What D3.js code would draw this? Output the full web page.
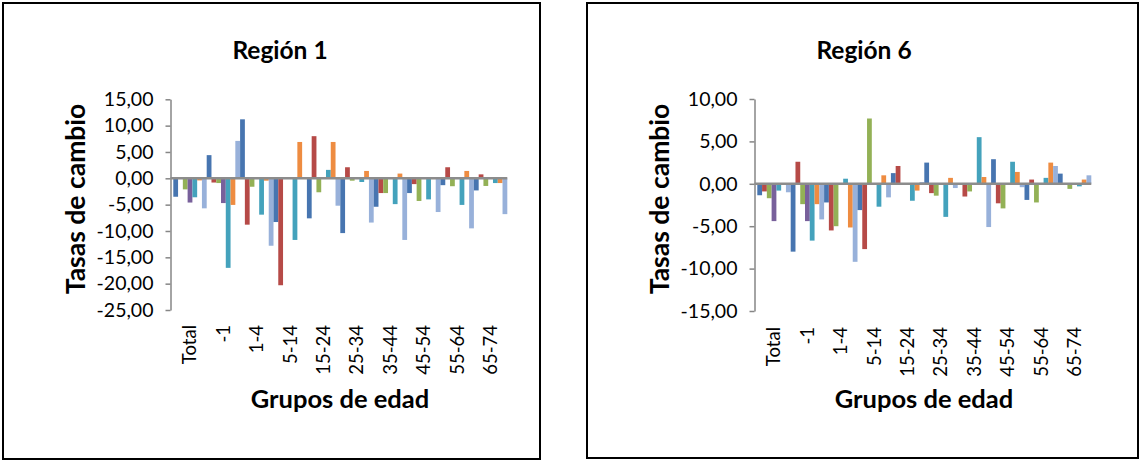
<!DOCTYPE html>
<html>
<head>
<meta charset="utf-8">
<script src="https://cdn.jsdelivr.net/npm/d3@7"></script>
<style>
  body { margin: 0; background: #fff; }
  text { font-family: Lato, "Open Sans", sans-serif; fill: #000; }
</style>
</head>
<body>
<svg width="1142" height="461"></svg>
<script>
// age groups on the x axis
var categories = ["Total", "-1", "1-4", "5-14", "15-24", "25-34", "35-44", "45-54", "55-64", "65-74"];
var series = ["Serie 1", "Serie 2", "Serie 3", "Serie 4", "Serie 5", "Serie 6", "Serie 7"];
var colors = ["#4775b0", "#b64a47", "#93b156", "#78609b", "#44a2bc", "#ee8c41", "#98b1da"];

// Región 1, one array per series (same order as categories)
var r1s1 = [-3.5, 4.4, 11.2, -8.3, -7.6, -10.4, -5.4, -2.8, -1.3, -2.3];
var r1s2 = [0, -0.8, -8.8, -20.3, 8.0, 2.1, -2.8, -1.1, 2.1, 0.75];
var r1s3 = [-2.1, -0.9, -1.6, 0, -2.65, -0.45, -2.8, -4.3, -1.5, -1.45];
var r1s4 = [-4.6, -4.7, 0, 0, 0, 0, 0, 0, 0, 0];
var r1s5 = [-3.6, -17.0, -6.9, -11.7, 1.6, -0.7, -4.9, -4.0, -5.05, -0.9];
var r1s6 = [-0.4, -5.05, -0.45, 6.9, 6.9, 1.4, 0.9, 0, 1.4, -0.9];
var r1s7 = [-5.7, 7.1, -12.8, 0, -5.2, -8.4, -11.7, -6.4, -9.5, -6.8];

// Región 6
var r6s1 = [-1.35, -8.0, -2.2, -3.1, 1.26, 2.5, 0, 2.9, -1.9, 1.2];
var r6s2 = [-0.9, 2.6, -5.5, -7.7, 2.1, -1.1, -1.5, -2.3, 0.5, 0];
var r6s3 = [-1.7, -2.4, -5.0, 7.7, 0, -1.4, -0.9, -2.9, -2.2, -0.6];
var r6s4 = [-4.4, -4.4, 0, 0, 0, 0, 0, 0, 0, 0];
var r6s5 = [-0.8, -6.7, 0.6, -2.7, -2.0, -3.9, 5.5, 2.6, 0.7, -0.3];
var r6s6 = [0, -2.4, -5.15, 1.0, -0.8, 0.7, 0.8, 1.4, 2.5, 0.5];
var r6s7 = [-1.0, -4.2, -9.2, -1.6, 0.2, -0.5, -5.1, -0.4, 2.1, 1.0];

var ticks1 = [15, 10, 5, 0, -5, -10, -15, -20, -25];
var ticks6 = [10, 5, 0, -5, -10, -15];

var svg = d3.select("svg");

var es = d3.formatLocale({decimal: ",", thousands: ".", grouping: [3], currency: ["", "€"], minus: "-"});
var fmt = es.format(".2f");

function drawPanel(p) {
  var g = svg.append("g");

  // frame round the chart
  g.append("rect")
    .attr("x", p.box[0]).attr("y", p.box[1])
    .attr("width", p.box[2]).attr("height", p.box[3])
    .attr("fill", "#fff")
    .attr("stroke", "#000")
    .attr("stroke-width", 2);

  var x0 = d3.scaleBand()
    .domain(categories)
    .range([p.bandStart, p.bandEnd])
    .padding(0);

  var x1 = d3.scaleBand()
    .domain(series)
    .range([0, x0.bandwidth()])
    .padding(0);

  var y = d3.scaleLinear()
    .domain([d3.min(p.ticks), d3.max(p.ticks)])
    .range([p.yBottom, p.yTop]);

  var rows = categories.map(function(c, i) {
    return series.map(function(s, j) { return {cat: c, ser: s, val: p.values[j][i], k: j}; });
  });

  g.append("g")
    .selectAll("g")
    .data(rows)
    .enter().append("g")
      .attr("transform", function(d, i) { return "translate(" + x0(categories[i]) + ",0)"; })
    .selectAll("rect")
    .data(function(d) { return d; })
    .enter().append("rect")
      .attr("x", function(d) { return x1(d.ser); })
      .attr("width", x1.bandwidth())
      .attr("y", function(d) { return y(Math.max(0, d.val)); })
      .attr("height", function(d) { return Math.abs(y(d.val) - y(0)); })
      .attr("fill", function(d) { return colors[d.k]; });

  // value axis
  var ya = g.append("g")
    .attr("transform", "translate(" + p.axisX + ",0)")
    .call(d3.axisLeft(y).tickValues(p.ticks).tickFormat(fmt).tickSize(5).tickSizeOuter(0).tickPadding(12));
  ya.select(".domain").attr("stroke", "#868686").attr("stroke-width", 1.5);
  ya.selectAll(".tick line").attr("stroke", "#868686").attr("stroke-width", 1.5);
  ya.selectAll("text").attr("font-size", 19.5).attr("fill", "#000");

  // category axis line at zero
  g.append("line")
    .attr("x1", p.axisX).attr("x2", p.bandEnd)
    .attr("y1", y(0)).attr("y2", y(0))
    .attr("stroke", "#8c8c8c")
    .attr("stroke-width", 2.5);

  // category labels sit below the plot
  var xa = g.append("g")
    .attr("transform", "translate(0," + p.labelY + ")")
    .call(d3.axisBottom(x0).tickSize(0));
  xa.select(".domain").remove();
  xa.selectAll("text")
    .attr("transform", "rotate(-90)")
    .attr("x", 0).attr("y", 0).attr("dy", "0.35em")
    .attr("text-anchor", "end")
    .attr("font-size", 18.5)
    .attr("fill", "#000");

  g.append("text")
    .attr("x", p.titleX).attr("y", 59)
    .attr("text-anchor", "middle")
    .attr("font-weight", "bold")
    .attr("font-size", 24.5)
    .text(p.title);

  g.append("text")
    .attr("transform", "translate(" + p.yTitleX + "," + p.yTitleY + ") rotate(-90)")
    .attr("text-anchor", "middle")
    .attr("font-weight", "bold")
    .attr("font-size", 26.5)
    .text("Tasas de cambio");

  g.append("text")
    .attr("x", p.xTitleX).attr("y", 408)
    .attr("text-anchor", "middle")
    .attr("font-weight", "bold")
    .attr("font-size", 25.5)
    .text("Grupos de edad");
}

drawPanel({
  box: [3, 3, 537, 456],
  title: "Región 1", titleX: 280,
  axisX: 170.5, bandStart: 173.3, bandEnd: 507.3,
  yTop: 99.3, yBottom: 310, ticks: ticks1,
  values: [r1s1, r1s2, r1s3, r1s4, r1s5, r1s6, r1s7],
  labelY: 325,
  yTitleX: 85, yTitleY: 199,
  xTitleX: 340
});

drawPanel({
  box: [587, 3, 551, 455],
  title: "Región 6", titleX: 864,
  axisX: 754.5, bandStart: 757.3, bandEnd: 1091.3,
  yTop: 99, yBottom: 311, ticks: ticks6,
  values: [r6s1, r6s2, r6s3, r6s4, r6s5, r6s6, r6s7],
  labelY: 327,
  yTitleX: 669, yTitleY: 199,
  xTitleX: 924
});
</script>
</body>
</html>
